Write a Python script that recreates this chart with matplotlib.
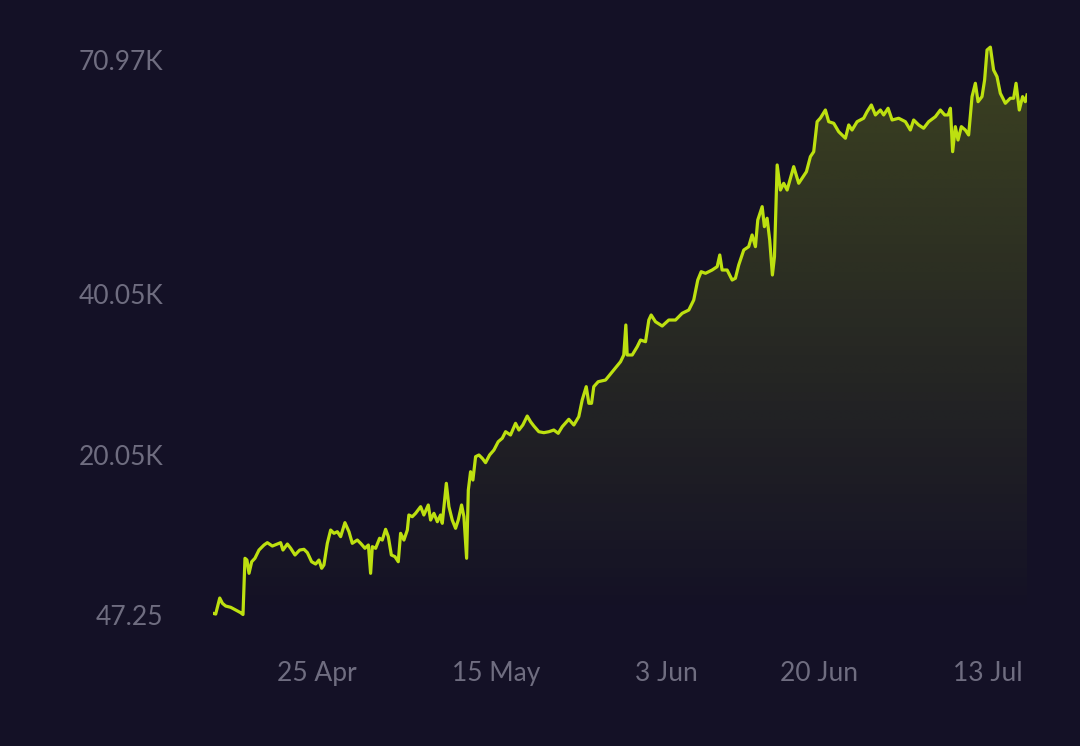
import numpy as np
import pandas as pd
import matplotlib
matplotlib.use("Agg")
import matplotlib.pyplot as plt
import matplotlib.dates as mdates
from matplotlib.colors import to_rgb
from matplotlib.transforms import ScaledTranslation

# ---- data (days relative to 25 Apr, values in thousands) ----
base_date = "2024-04-25"
days = [-11.53, -11.23, -10.78, -10.48, -10.12, -9.56, -9.00, -8.45, -8.19, -7.97,
        -7.75, -7.52, -7.22, -6.86, -6.41, -5.85, -5.48, -4.92, -4.36, -4.00,
        -3.74, -3.25, -2.88, -2.40, -1.88, -1.40, -1.02, -0.55, -0.10, 0.27,
        0.57, 0.82, 1.20, 1.57, 1.94, 2.32, 2.68, 3.16, 3.61, 3.98,
        4.54, 4.91, 5.39, 5.77, 6.02, 6.21, 6.58, 7.02, 7.32, 7.69,
        7.99, 8.33, 8.73, 9.10, 9.36, 9.73, 10.11, 10.28, 10.66, 11.03,
        11.59, 11.95, 12.44, 12.70, 13.07, 13.45, 13.81, 14.00, 14.45, 14.74,
        15.11, 15.48, 15.78, 16.15, 16.41, 16.71, 16.90, 17.15, 17.41, 17.71,
        18.08, 18.45, 18.82, 19.27, 19.75, 20.23, 20.68, 21.05, 21.60, 22.16,
        22.53, 22.97, 23.46, 23.83, 24.20, 24.75, 25.31, 25.87, 26.42, 26.91,
        27.36, 28.09, 28.65, 29.20, 29.58, 30.03, 30.32, 30.62, 30.87, 31.36,
        32.18, 33.10, 33.85, 34.21, 34.44, 34.59, 35.15, 35.71, 36.07, 36.63,
        37.00, 37.26, 37.74, 38.49, 39.22, 39.97, 40.71, 41.45, 42.00, 42.45,
        42.83, 43.31, 44.05, 44.61, 44.90, 45.16, 45.72, 46.28, 46.64, 47.01,
        47.57, 48.12, 48.50, 48.87, 49.13, 49.62, 49.87, 50.17, 50.46, 50.76,
        50.99, 51.29, 51.65, 52.02, 52.40, 53.13, 53.69, 54.18, 54.55, 54.99,
        55.36, 55.74, 56.11, 56.66, 57.03, 57.59, 58.14, 58.89, 59.26, 59.63,
        60.19, 60.92, 61.30, 61.78, 62.23, 62.78, 63.15, 63.64, 64.09, 64.82,
        65.57, 66.12, 66.49, 67.05, 67.60, 68.16, 68.91, 69.46, 69.94, 70.32,
        70.58, 70.83, 71.13, 71.43, 71.80, 72.24, 72.61, 72.99, 73.36, 73.66,
        74.10, 74.39, 74.66, 75.03, 75.39, 75.77, 76.14, 76.70, 77.25, 77.62,
        77.89, 78.25, 78.62, 78.92, 79.11]
values_k = [0.20, 0.11, 2.11, 1.45, 1.11, 0.95, 0.61, 0.28, 0.04725, 7.08,
            6.86, 5.20, 6.65, 7.08, 8.11, 8.74, 9.03, 8.61, 8.86, 9.03,
            8.11, 8.86, 8.33, 7.49, 8.11, 8.20, 7.78, 6.65, 6.36, 6.86,
            5.83, 6.24, 8.95, 10.61, 10.20, 10.40, 9.78, 11.53, 10.40, 8.95,
            9.36, 8.95, 8.33, 8.74, 5.20, 8.53, 8.33, 9.58, 9.36, 10.70,
            9.78, 7.49, 7.28, 6.65, 10.20, 9.36, 10.61, 12.49, 12.28, 12.70,
            13.53, 12.49, 13.74, 11.86, 12.70, 11.65, 12.49, 11.45, 16.45, 13.53,
            11.86, 10.83, 11.86, 13.74, 12.28, 7.08, 15.61, 17.90, 16.86, 19.78,
            19.99, 19.58, 19.03, 19.99, 20.61, 21.65, 22.08, 22.90, 22.49, 23.95,
            23.11, 23.74, 24.86, 24.15, 23.61, 22.90, 22.78, 22.90, 23.11, 22.70,
            23.53, 24.45, 23.74, 24.78, 26.86, 28.53, 26.45, 26.45, 28.53, 29.15,
            29.36, 30.61, 31.65, 32.49, 36.24, 32.49, 32.49, 33.53, 34.36, 34.15,
            36.86, 37.49, 36.65, 36.11, 36.86, 36.86, 37.70, 38.11, 39.36, 41.86,
            42.90, 42.70, 43.11, 43.53, 44.99, 43.11, 43.11, 41.86, 42.08, 43.74,
            45.61, 46.03, 47.49, 46.03, 49.36, 51.03, 48.53, 49.58, 46.86, 42.49,
            44.78, 56.24, 53.11, 53.95, 53.11, 56.03, 53.95, 54.78, 55.40, 57.28,
            57.90, 61.65, 62.11, 63.11, 61.65, 61.45, 60.40, 59.58, 61.24, 60.61,
            61.65, 62.08, 62.90, 63.74, 62.49, 63.11, 62.49, 63.33, 61.86, 62.08,
            61.65, 60.61, 61.86, 61.24, 60.83, 61.65, 62.28, 63.11, 62.49, 62.49,
            63.33, 57.90, 61.03, 59.36, 61.03, 60.61, 59.99, 64.78, 66.45, 64.15,
            64.78, 66.86, 70.61, 70.97, 68.11, 67.28, 65.20, 63.95, 64.58, 64.58,
            66.45, 63.11, 64.78, 64.15, 64.99]
y_ticks_k = [0.04725, 20.05, 40.05, 70.97]
y_tick_labels = ["47.25", "20.05K", "40.05K", "70.97K"]
x_tick_dates = ["2024-04-25", "2024-05-15", "2024-06-03", "2024-06-20", "2024-07-13"]
x_tick_labels = ["25 Apr", "15 May", "3 Jun", "20 Jun", "13 Jul"]

# ---- style ----
bg = "#141126"
line_color = "#bde010"
text_color = "#6f6d80"
plt.rcParams["font.family"] = ["Lato", "DejaVu Sans"]

dates = pd.Timestamp(base_date) + pd.to_timedelta(np.array(days), unit="D")
x = mdates.date2num(dates.to_pydatetime())
y = np.array(values_k)

fig = plt.figure(figsize=(10.8, 7.46), dpi=100, facecolor=bg)
W, H = 1080, 746
left, right, top, bottom = 213, 1027, 40, 625
ax = fig.add_axes([left / W, 1 - bottom / H, (right - left) / W, (bottom - top) / H])
ax.set_facecolor(bg)

ax.set_xlim(x[0], x[-1])
ax.set_ylim(-1.26, 71.86)

# gradient fill under line
poly = ax.fill_between(x, y, -1.26, facecolor="none", edgecolor="none")
n = 400
yy = np.linspace(-1.26, 71.86, n)
alpha = 0.24 * np.clip((yy - y.min()) / (y.max() - y.min()), 0, 1)
img = np.zeros((n, 2, 4))
img[..., :3] = to_rgb(line_color)
img[..., 3] = alpha[:, None]
im = ax.imshow(img, extent=[x[0], x[-1], -1.26, 71.86], origin="lower",
               aspect="auto", interpolation="bilinear", zorder=1)
im.set_clip_path(poly.get_paths()[0], transform=ax.transData)

ax.plot(x, y, color=line_color, lw=2.3, solid_joinstyle="round", zorder=3)

for s in ax.spines.values():
    s.set_visible(False)

ax.set_yticks(y_ticks_k)
ax.set_yticklabels(y_tick_labels)
xt = mdates.date2num(pd.to_datetime(x_tick_dates).to_pydatetime())
ax.set_xticks(xt)
ax.set_xticklabels(x_tick_labels)
ax.tick_params(axis="both", length=0, colors=text_color, labelsize=19)
ax.tick_params(axis="y", pad=36)
ax.tick_params(axis="x", pad=26)

ylabels = ax.get_yticklabels()
ylabels[-1].set_transform(ylabels[-1].get_transform() +
                          ScaledTranslation(0, -13 / 100, fig.dpi_scale_trans))
xlabels = ax.get_xticklabels()
xlabels[-1].set_horizontalalignment("right")
xlabels[-1].set_transform(xlabels[-1].get_transform() +
                          ScaledTranslation(-3 / 100, 0, fig.dpi_scale_trans))

fig.savefig("out.png", dpi=100, facecolor=bg)
